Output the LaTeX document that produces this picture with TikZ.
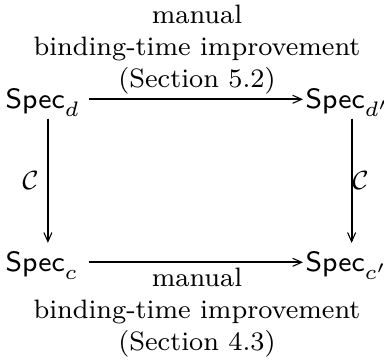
\documentclass[tikz,border=0pt]{standalone}
\usetikzlibrary{arrows.meta}
\begin{document}
\begin{tikzpicture}[x=1pt,y=-1pt,
  spec/.style={inner sep=0pt, scale=3.5, font=\fontsize{8}{9.6}\selectfont, text height=5.55pt, text depth=0pt, anchor=base west},
  lbl/.style={inner sep=0pt, scale=3.33, font=\fontsize{8}{9.6}\selectfont, align=center, anchor=north},
  clbl/.style={inner sep=0pt, scale=3.3, font=\fontsize{8}{9.6}\selectfont},
  arr/.style={line width=1.8pt, -{Straight Barb[length=9pt,width=8pt,line width=1.1pt]}}]
\useasboundingbox (0,0) rectangle (384,364);
\node[spec] (d)  at (5,109)   {$\mathsf{Spec}_d$};
\node[spec] (dp) at (305,109) {$\mathsf{Spec}_{d'}$};
\node[spec] (c)  at (5,272)   {$\mathsf{Spec}_c$};
\node[spec] (cp) at (305,272) {$\mathsf{Spec}_{c'}$};
\draw[arr, shorten <=8pt, shorten >=2pt] (d.east) -- (dp.west);
\draw[arr, shorten <=10pt, shorten >=2pt] (c.east) -- (cp.west);
\draw[arr, shorten <=9pt, shorten >=9pt] ([xshift=5pt]d.south) -- ([xshift=5pt]d.south |- c.north);
\draw[arr, shorten <=9pt, shorten >=9pt] ([xshift=4pt]dp.south) -- ([xshift=4pt]dp.south |- cp.north);
\node[lbl] (tl) at (197,4) {manual\\binding-time improvement\\(Section 5.2)};
\node[lbl] (bl) at (197,267) {manual\\binding-time improvement\\(Section 4.3)};
\node[clbl] (cl) at (30.5,180) {$\mathcal{C}$};
\node[clbl] (cr) at (360.5,180) {$\mathcal{C}$};
\end{tikzpicture}
\end{document}
